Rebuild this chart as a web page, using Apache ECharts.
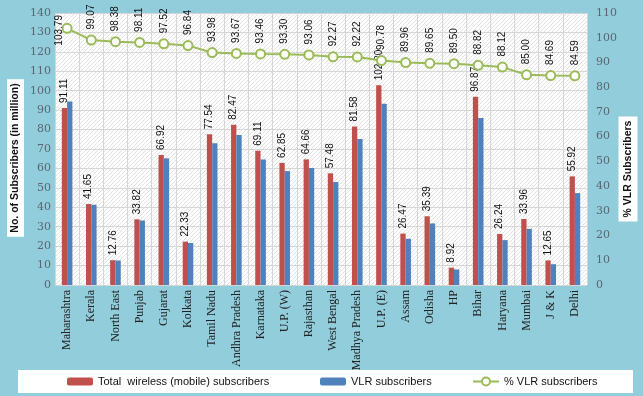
<!DOCTYPE html>
<html><head><meta charset="utf-8">
<script src="https://cdn.jsdelivr.net/npm/echarts@6/dist/echarts.min.js"></script>
<style>html,body{margin:0;padding:0;background:#92CDDC}#c{width:643px;height:396px}</style>
</head><body><div id="c"></div>
<script>
const categories = ['Maharashtra','Kerala','North East','Punjab','Gujarat','Kolkata','Tamil Nadu','Andhra Pradesh','Karnataka','U.P. (W)','Rajasthan','West Bengal','Madhya Pradesh','U.P. (E)','Assam','Odisha','HP','Bihar','Haryana','Mumbai','J & K','Delhi'];
const totalSubs = [91.11,41.65,12.76,33.82,66.92,22.33,77.54,82.47,69.11,62.85,64.66,57.48,81.58,102.80,26.47,35.39,8.92,96.87,26.24,33.96,12.65,55.92];
const vlrSubs = [94.5,41.3,12.6,33.2,65.2,21.6,72.9,77.2,64.6,58.6,60.2,53.0,75.2,93.3,23.8,31.7,8.0,86.0,23.1,28.9,10.7,47.3];
const vlrPct = [103.79,99.07,98.38,98.11,97.52,96.84,93.98,93.67,93.46,93.30,93.06,92.27,92.22,90.78,89.96,89.65,89.50,88.82,88.12,85.00,84.69,84.59];
const leftTicks = {min:0,max:140,interval:10};
const rightTicks = {min:0,max:110,interval:10};
const names = ['Total  wireless (mobile) subscribers','VLR subscribers','% VLR subscribers'];

const cv = document.createElement('canvas'); cv.width = 4; cv.height = 4;
const cx = cv.getContext('2d');
cx.fillStyle = '#ffffff'; cx.fillRect(0,0,4,4);
cx.strokeStyle = '#e4e4e4'; cx.lineWidth = 1;
cx.beginPath(); cx.moveTo(0,4); cx.lineTo(4,0); cx.stroke();

const chart = echarts.init(document.getElementById('c'), null, {renderer:'canvas'});
const tickFont = {fontFamily:'DejaVu Serif', fontSize:11, color:'#5a6670'};
const lineData = vlrPct.map((v,i)=> i===0 ? {value:v, label:{position:'inside', align:'center', offset:[-2,-8]}} : v);
chart.setOption({
  animation:false,
  backgroundColor:'#92CDDC',
  grid:{left:55,right:56,top:13,bottom:111,show:true,borderWidth:0,backgroundColor:{image:cv,repeat:'repeat'}},
  xAxis:{type:'category',data:categories,axisLine:{show:false},axisTick:{show:false},
    splitLine:{show:true,lineStyle:{color:'#d6d6d6',width:1}},
    axisLabel:{rotate:90,interval:0,fontFamily:'Liberation Serif',fontSize:12,color:'#222',margin:5}},
  yAxis:[
    Object.assign({type:'value',axisLine:{show:false},axisTick:{show:false},
      splitLine:{lineStyle:{color:'#d6d6d6'}},axisLabel:Object.assign({margin:4},tickFont)},leftTicks),
    Object.assign({type:'value',axisLine:{show:false},axisTick:{show:false},
      splitLine:{show:false},axisLabel:Object.assign({margin:9},tickFont)},rightTicks)
  ],
  legend:[
    {data:[names[0]],left:67,top:376,itemWidth:26,itemHeight:8,padding:0,textStyle:{fontFamily:'Liberation Sans',fontSize:11,color:'#111'}},
    {data:[names[1]],left:320,top:376,itemWidth:26,itemHeight:8,padding:0,textStyle:{fontFamily:'Liberation Sans',fontSize:11,color:'#111'}},
    {data:[names[2]],left:472,top:376,itemWidth:26,itemHeight:10,padding:0,textStyle:{fontFamily:'Liberation Sans',fontSize:11,color:'#111'}}
  ],
  graphic:[
    {type:'rect',z:-1,shape:{x:18,y:370,width:615,height:23},style:{fill:'#fff'}},
    {type:'text',x:15.5,y:158,rotation:Math.PI/2,style:{text:'No. of Subscribers (in million)',font:'bold 10.5px Liberation Sans',fill:'#111',align:'center',verticalAlign:'middle',backgroundColor:'#fff',padding:[3,4]}},
    {type:'text',x:628,y:169,rotation:Math.PI/2,style:{text:'% VLR Subscribers',font:'bold 10.5px Liberation Sans',fill:'#111',align:'center',verticalAlign:'middle',backgroundColor:'#fff',padding:[4,4]}}
  ],
  series:[
    {name:names[0],type:'bar',data:totalSubs,barWidth:5.3,barGap:'0%',itemStyle:{color:'#C0504D'},
      label:{show:true,position:'top',rotate:90,align:'left',verticalAlign:'middle',distance:5,
        fontFamily:'Liberation Sans',fontSize:10,color:'#111',formatter:p=>p.value.toFixed(2)}},
    {name:names[1],type:'bar',data:vlrSubs,barWidth:5.3,barGap:'0%',itemStyle:{color:'#4F81BD'}},
    {name:names[2],type:'line',yAxisIndex:1,data:lineData,symbol:'circle',symbolSize:9,z:5,
      lineStyle:{color:'#9BBB59',width:2},itemStyle:{color:'#fff',borderColor:'#9BBB59',borderWidth:2},
      label:{show:true,position:'top',rotate:90,align:'left',verticalAlign:'middle',distance:5,
        fontFamily:'Liberation Sans',fontSize:10,color:'#111',formatter:p=>(typeof p.value==='number'?p.value:p.data.value).toFixed(2)}}
  ]
});
</script></body></html>
